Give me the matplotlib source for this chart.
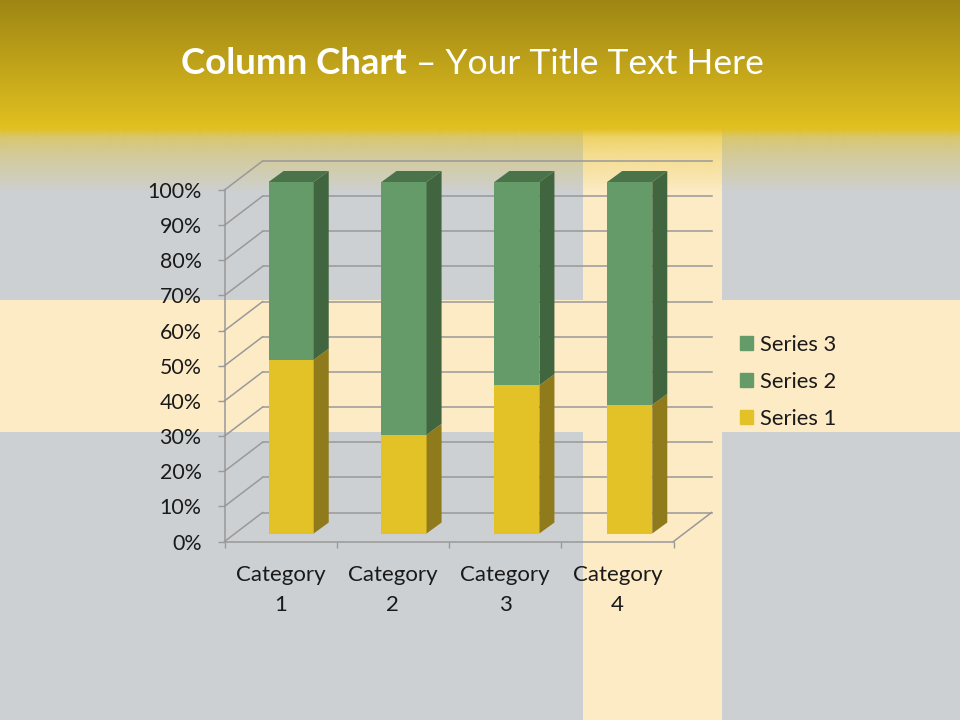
import matplotlib
matplotlib.use("Agg")
import matplotlib.pyplot as plt
import numpy as np
from matplotlib.patches import Patch, Polygon, Rectangle

plt.rcParams["font.family"] = ["Lato", "DejaVu Sans"]

categories = ["Category\n1", "Category\n2", "Category\n3", "Category\n4"]
series_1 = [4.3, 2.5, 3.5, 4.5]
series_2 = [2.4, 4.4, 1.8, 2.8]
series_3 = [2, 2, 3, 5]
percent_ticks = [0, 10, 20, 30, 40, 50, 60, 70, 80, 90, 100]

GREY = "#CDD0D3"
CREAM = "#FDEBC6"
YELLOW = "#E2C227"
YELLOW_SIDE = "#8F7A1C"
GREEN = "#659A69"
GREEN_SIDE = "#41663F"
GREEN_TOP = "#4A7349"
GRID = "#999999"
TEXT = "#1A1A1A"

fig = plt.figure(figsize=(9.6, 7.2), dpi=100, facecolor=GREY)

# background in pixel coordinates
bg = fig.add_axes([0, 0, 1, 1], zorder=0)
bg.axis("off")
bg.add_patch(Rectangle((0, 300), 960, 132, color=CREAM, lw=0))
bg.add_patch(Rectangle((583, 128), 139, 592, color=CREAM, lw=0))

# top banner: dark gold to gold, then fading out
rows = np.arange(0, 193)
top_colour = np.array([158, 134, 20]) / 255
low_colour = np.array([226, 192, 32]) / 255
mix = np.clip(rows / 128, 0, 1)[:, None]
rgba = np.ones((len(rows), 1, 4))
rgba[:, :, :3] = (top_colour * (1 - mix) + low_colour * mix)[:, None, :]
rgba[:, 0, 3] = np.interp(rows, [0, 128, 132, 137, 145, 153, 170, 180, 192],
                          [1, 1, 0.8, 0.56, 0.45, 0.34, 0.2, 0.12, 0])
bg.imshow(rgba, extent=(0, 960, 193, 0), aspect="auto", interpolation="bilinear", zorder=2)
bg.set_xlim(0, 960)
bg.set_ylim(720, 0)

# title
fig.text(181 / 960, 1 - 74 / 720, "Column Chart", color="white", fontsize=26.4, fontweight="bold")
fig.text(416 / 960, 1 - 74 / 720, "\u2013 Your Title Text Here", color="white", fontsize=25.5)

# front plane of the chart
ax = fig.add_axes([224.5 / 960, 1 - 541.5 / 720, 449 / 960, 351.5 / 720], zorder=1)
ax.patch.set_alpha(0)
ax.set_xlim(0, 4)
ax.set_ylim(0, 100)

# depth in data units (1 category = 112 px, 1% = 3.515 px)
wall_dx, wall_dy = 38 / 112, 29 / 3.515
bar_dx, bar_dy = 15 / 112, 11 / 3.515
shift_x, shift_y = 10.5 / 112, 8 / 3.515
bar_width = 45 / 112
bar_step = 112.6 / 112

# walls and floor
for p in percent_ticks:
    ax.plot([wall_dx, 4 + wall_dx], [p + wall_dy, p + wall_dy], color=GRID, lw=1.1, clip_on=False, zorder=1)
    ax.plot([0, wall_dx], [p, p + wall_dy], color=GRID, lw=1.1, clip_on=False, zorder=1)
ax.plot([4, 4 + wall_dx], [0, wall_dy], color=GRID, lw=1.1, clip_on=False, zorder=1)

# percent stacked columns, series 2 and 3 share a colour
totals = np.array(series_1) + np.array(series_2) + np.array(series_3)
pct_1 = np.array(series_1) / totals * 100
pct_2 = np.array(series_2) / totals * 100
pct_3 = np.array(series_3) / totals * 100
lefts = 0.5 + np.arange(len(categories)) * bar_step + shift_x - bar_width / 2

ax.bar(lefts, pct_1, width=bar_width, bottom=shift_y, align="edge", color=YELLOW, lw=0, clip_on=False, zorder=3)
ax.bar(lefts, pct_2, width=bar_width, bottom=shift_y + pct_1, align="edge", color=GREEN, lw=0, clip_on=False, zorder=3)
ax.bar(lefts, pct_3, width=bar_width, bottom=shift_y + pct_1 + pct_2, align="edge", color=GREEN, lw=0,
       clip_on=False, zorder=3)

# side and top faces
for i in range(len(categories)):
    x0 = lefts[i]
    x1 = x0 + bar_width
    y_low = shift_y
    y_mid = shift_y + pct_1[i]
    y_top = shift_y + pct_1[i] + pct_2[i] + pct_3[i]
    for lo, hi, side in [(y_low, y_mid, YELLOW_SIDE), (y_mid, y_top, GREEN_SIDE)]:
        ax.add_patch(Polygon([(x1, lo), (x1 + bar_dx, lo + bar_dy), (x1 + bar_dx, hi + bar_dy), (x1, hi)],
                             closed=True, color=side, lw=0, clip_on=False, zorder=3))
    ax.add_patch(Polygon([(x0, y_top), (x0 + bar_dx, y_top + bar_dy), (x1 + bar_dx, y_top + bar_dy), (x1, y_top)],
                         closed=True, color=GREEN_TOP, lw=0, clip_on=False, zorder=3))

# axes and labels
for name in ["top", "right"]:
    ax.spines[name].set_visible(False)
for name in ["left", "bottom"]:
    ax.spines[name].set_color(GRID)
    ax.spines[name].set_linewidth(1.1)
ax.set_yticks(percent_ticks, labels=[f"{p}%" for p in percent_ticks])
ax.tick_params(axis="y", length=5, width=1.0, color=GRID, pad=11.5, labelsize=15.4, labelcolor=TEXT)
ax.set_xticks(range(5), labels=[])
ax.set_xticks(np.arange(len(categories)) + 0.5, labels=categories, minor=True)
ax.tick_params(axis="x", which="major", length=4.5, width=1.0, color=GRID)
ax.tick_params(axis="x", which="minor", length=0, pad=17, labelsize=16, labelcolor=TEXT)
for label in ax.get_xticklabels(minor=True):
    label.set_linespacing(1.62)

handles = [Patch(color=GREEN), Patch(color=GREEN), Patch(color=YELLOW)]
fig.legend(handles, ["Series 3", "Series 2", "Series 1"], frameon=False, loc="center left",
           bbox_to_anchor=(720 / 960, 1 - 382 / 720), fontsize=15.8, labelcolor=TEXT,
           handlelength=0.6, handleheight=0.6, handletextpad=0.32, labelspacing=0.77)

fig.savefig("out.png", dpi=100, facecolor=GREY)
